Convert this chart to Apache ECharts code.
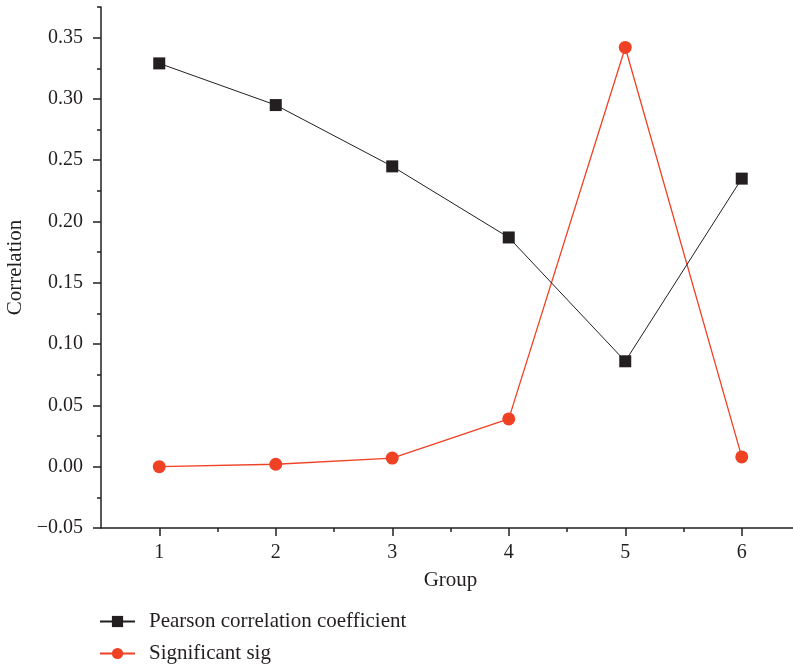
<!DOCTYPE html>
<html><head><meta charset="utf-8">
<script src="https://cdn.jsdelivr.net/npm/echarts@6/dist/echarts.min.js"></script>
<style>html,body{margin:0;padding:0;background:#fff}#c{width:793px;height:669px}</style>
</head><body><div id="c"></div>
<script>
const groups = [1, 2, 3, 4, 5, 6];
const pearson = [0.329, 0.295, 0.245, 0.187, 0.086, 0.235];
const sig = [0.000, 0.002, 0.007, 0.039, 0.342, 0.008];
const yMajor = [-0.05, 0, 0.05, 0.10, 0.15, 0.20, 0.25, 0.30, 0.35];
const yMinor = [-0.025, 0.025, 0.075, 0.125, 0.175, 0.225, 0.275, 0.325, 0.375];
const xMajor = [1, 2, 3, 4, 5, 6];
const xMinor = [1.5, 2.5, 3.5, 4.5, 5.5];

const FONT = '"Liberation Serif", "DejaVu Serif", serif';
const INK = '#231f20';
const RED = '#ef4123';
const fmt = v => v < 0 ? '\u2212' + Math.abs(v).toFixed(2) : v.toFixed(2);

const chart = echarts.init(document.getElementById('c'));
chart.setOption({
  animation: false,
  backgroundColor: '#fff',
  grid: { left: 101, top: 7, right: -7, bottom: 141, outerBoundsMode: 'none', containLabel: false },
  xAxis: [{
    type: 'value', min: 0.5, max: 6.5,
    name: 'Group', nameLocation: 'middle', nameGap: 42,
    nameTextStyle: { fontFamily: FONT, fontSize: 21, color: INK },
    axisLine: { onZero: false, lineStyle: { color: INK, width: 1.5 } },
    axisTick: { customValues: xMajor, length: 8, lineStyle: { color: INK, width: 1.5 } },
    axisLabel: { customValues: xMajor, margin: 15, fontFamily: FONT, fontSize: 20, color: INK },
    splitLine: { show: false }
  }, {
    type: 'value', min: 0.5, max: 6.5, position: 'bottom',
    axisLine: { show: false, onZero: false },
    axisTick: { customValues: xMinor, length: 4, lineStyle: { color: INK, width: 1.5 } },
    axisLabel: { show: false },
    splitLine: { show: false }
  }],
  yAxis: [{
    type: 'value', min: -0.05, max: 0.375,
    name: 'Correlation', nameLocation: 'middle', nameGap: 75,
    nameTextStyle: { fontFamily: FONT, fontSize: 21, color: INK },
    axisLine: { show: true, onZero: false, lineStyle: { color: INK, width: 1.5 } },
    axisTick: { show: true, customValues: yMajor, length: 8, lineStyle: { color: INK, width: 1.5 } },
    axisLabel: { customValues: yMajor, margin: 18, fontFamily: FONT, fontSize: 20, color: INK, formatter: fmt },
    splitLine: { show: false }
  }, {
    type: 'value', min: -0.05, max: 0.375, position: 'left',
    axisLine: { show: false, onZero: false },
    axisTick: { show: true, customValues: yMinor, length: 4, lineStyle: { color: INK, width: 1.5 } },
    axisLabel: { show: false },
    splitLine: { show: false }
  }],
  legend: {
    orient: 'vertical', left: 99, top: 611, height: 58, padding: 0,
    itemWidth: 35, itemHeight: 14, itemGap: 11,
    textStyle: { fontFamily: FONT, fontSize: 21, color: INK, padding: [0, 0, 0, 9] },
    data: ['Pearson correlation coefficient', 'Significant sig']
  },
  series: [{
    name: 'Pearson correlation coefficient', type: 'line',
    data: groups.map((g, i) => [g, pearson[i]]),
    symbol: 'rect', symbolSize: 12,
    lineStyle: { color: INK, width: 1 },
    itemStyle: { color: INK },
    z: 3
  }, {
    name: 'Significant sig', type: 'line',
    data: groups.map((g, i) => [g, sig[i]]),
    symbol: 'circle', symbolSize: 13,
    lineStyle: { color: RED, width: 1.3 },
    itemStyle: { color: RED },
    z: 2
  }]
});
</script></body></html>
